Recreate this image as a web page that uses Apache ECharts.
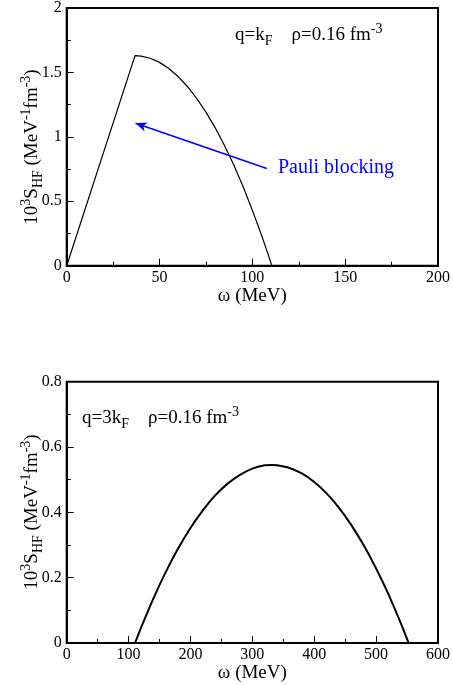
<!DOCTYPE html>
<html>
<head>
<meta charset="utf-8">
<script src="https://cdn.jsdelivr.net/npm/echarts@6/dist/echarts.min.js"></script>
<style>
  html, body { margin: 0; padding: 0; background: #fff; }
  #chart { width: 453px; height: 685px; }
</style>
</head>
<body>
<div id="chart"></div>
<script>
// panel superior: q = kF (omega en MeV, S en 10^3 MeV^-1 fm^-3)
const omegaKF = [0, 36.8, 40, 45, 50, 55, 60, 65, 70, 75, 80, 85, 90, 95, 100, 105, 108, 110.5];
const sKF     = [0, 1.63, 1.627, 1.61, 1.578, 1.531, 1.468, 1.391, 1.299, 1.192, 1.07, 0.933, 0.781, 0.614, 0.431, 0.234, 0.109, 0];

// panel inferior: q = 3kF
const omega3KF = [110.5, 120, 140, 160, 180, 200, 220, 240, 260, 280, 300, 320, 331.5, 340, 360, 380, 400, 420, 440, 460, 480, 500, 520, 540, 552.5];
const s3KF     = [0, 0.046, 0.136, 0.217, 0.289, 0.352, 0.406, 0.452, 0.488, 0.515, 0.534, 0.544, 0.545, 0.544, 0.536, 0.519, 0.493, 0.458, 0.414, 0.361, 0.299, 0.228, 0.149, 0.06, 0];

// flecha "Pauli blocking" (punta, cola) en coordenadas de datos
const arrowTip  = [37.1, 1.105];
const arrowTail = [107.8, 0.755];

const SERIF = 'Liberation Serif';

const chart = echarts.init(document.getElementById('chart'));

function pairs(xs, ys) {
    return xs.map((x, i) => [x, ys[i]]);
}

// eje con ticks hacia dentro y minor ticks
function axis(opts) {
    return Object.assign({
        type: 'value',
        axisLine: { show: true, lineStyle: { color: '#000', width: 2 } },
        axisTick: { show: true, inside: true, length: 7, lineStyle: { color: '#000', width: 1 } },
        minorTick: { show: true, splitNumber: 2, length: 4, lineStyle: { color: '#000', width: 1 } },
        splitLine: { show: false },
        axisLabel: { show: true, color: '#000', fontFamily: SERIF, fontSize: 16 }
    }, opts);
}

const richLabel = {
    n:   { fontFamily: SERIF, fontSize: 19, lineHeight: 26, fill: '#000' },
    sup: { fontFamily: SERIF, fontSize: 14, lineHeight: 14, verticalAlign: 'top', fill: '#000' },
    sub: { fontFamily: SERIF, fontSize: 14, lineHeight: 14, verticalAlign: 'bottom', fill: '#000' }
};

const yName = '{n|10}{sup|3}{n|S}{sub|HF}{n| (MeV}{sup|-1}{n|fm}{sup|-3}{n|)}';

// marco negro alrededor de cada panel
const frame = { show: true, borderColor: '#000', borderWidth: 2, backgroundColor: 'transparent' };

const option = {
    backgroundColor: '#fff',
    animation: false,
    grid: [
        Object.assign({ left: 66.7, top: 3.3, width: 374, height: 262.4 }, frame),
        Object.assign({ left: 66.7, top: 381.7, width: 375, height: 261.3 }, frame)
    ],
    xAxis: [
        axis({ gridIndex: 0, min: 0, max: 200, interval: 50,
               name: 'ω (MeV)', nameLocation: 'middle', nameGap: 18,
               nameTextStyle: { color: '#000', fontFamily: SERIF, fontSize: 19 },
               axisLabel: { color: '#000', fontFamily: SERIF, fontSize: 16, margin: 4 } }),
        axis({ gridIndex: 1, min: 0, max: 600, interval: 100,
               name: 'ω (MeV)', nameLocation: 'middle', nameGap: 19,
               nameTextStyle: { color: '#000', fontFamily: SERIF, fontSize: 19 },
               axisLabel: { color: '#000', fontFamily: SERIF, fontSize: 16, margin: 4 } })
    ],
    yAxis: [
        axis({ gridIndex: 0, min: 0, max: 2, interval: 0.5,
               axisLabel: { color: '#000', fontFamily: SERIF, fontSize: 16, margin: 5 } }),
        axis({ gridIndex: 1, min: 0, max: 0.8, interval: 0.2,
               axisLabel: { color: '#000', fontFamily: SERIF, fontSize: 16, margin: 5 } })
    ],
    series: [
        {
            name: 'q=kF',
            type: 'line',
            xAxisIndex: 0, yAxisIndex: 0,
            data: pairs(omegaKF, sKF),
            showSymbol: false,
            smooth: false,
            lineStyle: { color: '#000', width: 1.2 },
            markLine: {
                silent: true,
                symbol: ['arrow', 'none'],
                symbolSize: [7, 11],
                label: { show: false },
                lineStyle: { color: '#0000ff', width: 1.5, type: 'solid' },
                data: [[{ coord: arrowTip }, { coord: arrowTail }]]
            }
        },
        {
            name: 'q=3kF',
            type: 'line',
            xAxisIndex: 1, yAxisIndex: 1,
            data: pairs(omega3KF, s3KF),
            showSymbol: false,
            smooth: 0.2,
            lineStyle: { color: '#000', width: 2 }
        }
    ],
    graphic: [
        {   // etiqueta eje Y superior
            type: 'text', x: 32, y: 147, rotation: Math.PI / 2,
            style: { text: yName, rich: richLabel, align: 'center', verticalAlign: 'middle', fill: '#000' }
        },
        {   // etiqueta eje Y inferior
            type: 'text', x: 32, y: 512, rotation: Math.PI / 2,
            style: { text: yName, rich: richLabel, align: 'center', verticalAlign: 'middle', fill: '#000' }
        },
        {
            type: 'text', x: 235, y: 35,
            style: { text: '{n|q=k}{sub|F}{n|    ρ=0.16 fm}{sup|-3}', rich: richLabel, align: 'left', verticalAlign: 'middle', fill: '#000' }
        },
        {
            type: 'text', x: 82, y: 418,
            style: { text: '{n|q=3k}{sub|F}{n|    ρ=0.16 fm}{sup|-3}', rich: richLabel, align: 'left', verticalAlign: 'middle', fill: '#000' }
        },
        {
            type: 'text', x: 278, y: 168,
            style: { text: 'Pauli blocking', fill: '#0000ff', fontFamily: SERIF, fontSize: 20, align: 'left', verticalAlign: 'middle' }
        }
    ]
};

chart.setOption(option);
</script>
</body>
</html>
